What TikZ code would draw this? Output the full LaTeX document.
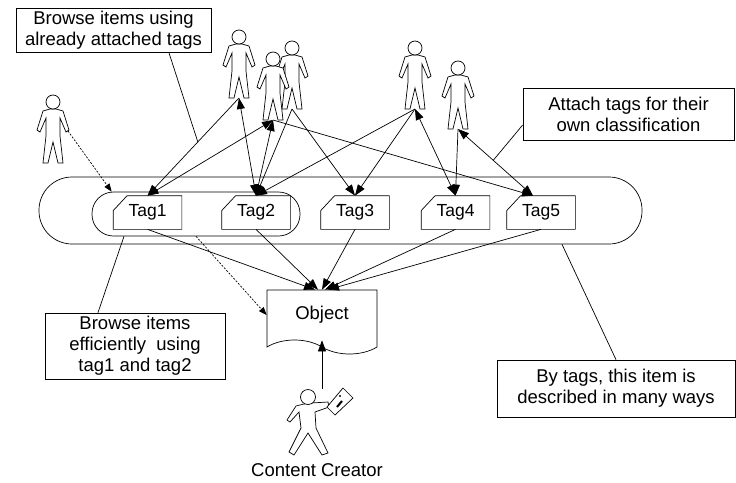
\documentclass[tikz,border=0pt]{standalone}
\usepackage{fontspec}
\setmainfont{Liberation Sans}
\usetikzlibrary{arrows.meta,shapes.symbols,calc}

\tikzset{
  box/.style={draw, align=center, inner sep=0pt},
  grp/.style={draw, inner sep=0pt},
  tag/.style={minimum width=68pt, minimum height=33pt, inner sep=0pt, font=\fontsize{17.5}{21}\selectfont},
  doc/.style={tape, tape bend top=none, tape bend bottom=out and in, tape bend height=14pt,
    draw, fill=white, minimum width=110pt, minimum height=64pt, inner sep=0pt},
  dotarrow/.style={dash pattern=on 2pt off 1.5pt, -{Triangle[length=8pt,width=6pt]}},
  person/.pic={
    \draw[fill=white] (-3,7) -- (-10,9) -- (-16,28) -- (-13,30) -- (-7,16) -- (-7,34)
      -- (-10,61) -- (-5,61) -- (0,40) -- (5,61) -- (10,61) -- (7,34) -- (7,16)
      -- (13,30) -- (16,28) -- (10,9) -- (3,7) -- cycle;
    \draw[fill=white] (0,0) circle (7pt);
    \coordinate (-feet) at (0,61);
    \coordinate (-hand) at (15,29);
  }
}

\begin{document}
\begin{tikzpicture}[x=1pt, y=-1pt, line width=0.7pt, >={Triangle[length=11pt,width=8pt]},
    font=\fontsize{18.5}{21}\selectfont]
    \useasboundingbox (0,0) rectangle (736,482);
    % 标签容器
    \node[grp, minimum width=603pt, minimum height=67pt, rounded corners=33pt] (outer) at (340.5,210.5) {};
    \node[grp, minimum width=208pt, minimum height=44pt, rounded corners=21.5pt] (inner) at (196,214) {};
    % 标签
    \foreach \i/\x in {1/147.5, 2/256, 3/355, 4/455.5, 5/541} {
        \node[tag] (t\i) at (\x,212.5) {Tag\i};
        \draw ([yshift=-15pt]t\i.north west) -- ([xshift=14pt]t\i.north west) -- (t\i.north east)
            -- (t\i.south east) -- (t\i.south west) -- cycle;
    }
    % 用户
    \pic (C) at (292,48) {person};
    \pic (B) at (273,59) {person};
    \pic (A) at (239,37) {person};
    \pic (D) at (415,48) {person};
    \pic (E) at (458,68) {person};
    \pic (L) at (53,102) {person};
    % 对象
    \node[doc] (obj) at (322,315) {Object};
    % 用户与标签
    \draw[->] (A-feet) -- (t1.north);
    \draw[<->] (A-feet) -- (t2.north);
    \draw[<->] (B-feet) -- (t1.north);
    \draw[<->] (B-feet) -- (t2.north);
    \draw[->] (B-feet) -- ([xshift=-8pt]t5.north);
    \draw[->] (C-feet) -- (t2.north);
    \draw[->] (C-feet) -- (t3.north);
    \draw[->] (D-feet) -- (t2.north);
    \draw[->] (D-feet) -- (t3.north);
    \draw[<->] (D-feet) -- (t4.north);
    \draw[->] (E-feet) -- (t4.north);
    \draw[<->] (E-feet) -- ([xshift=-8pt]t5.north);
    % 标签指向对象
    \foreach \i/\dx in {1/-7, 2/-4, 3/0, 4/3, 5/6}
        \draw[->] (t\i.south) -- ([xshift=\dx pt]obj.north);
    \draw[dotarrow] (L-hand) -- ([xshift=20pt]inner.north west);
    \draw[dotarrow] (inner.south) -- (obj.west);
    % 内容创建者
    \draw[fill=white] (304,404) -- (296,406) -- (287,420) -- (290,422) -- (299,412) -- (301,428)
        -- (289,452) -- (294,455) -- (308,433) -- (322,455) -- (328,453) -- (316,428)
        -- (315,412) -- (329,407) -- (328,402) -- (311,403) -- cycle;
    \draw[fill=white] (308,397) circle (7.5pt);
    \draw[fill=white] (343,388) -- (353,398) -- (335,415) -- (327,407) -- cycle;
    \draw[line width=2pt] (337,407) -- (342,401);
    \fill (340,396) circle (1.2pt);
    \coordinate (creator) at (322,389);
    \draw[->] (creator) -- (obj.south);
    \node (cc) at (317,470) {Content Creator};
    % 说明框
    \node[box, minimum width=195pt, minimum height=44pt] (box1) at (113.5,30)
        {Browse items using\\already attached tags};
    \node[box, minimum width=180pt, minimum height=66pt] (box2) at (135,346)
        {Browse items\\efficiently\ \ using\\tag1 and tag2};
    \node[box, minimum width=211pt, minimum height=52pt] (box3) at (628.5,114)
        {Attach tags for their\\own classification};
    \node[box, minimum width=238pt, minimum height=57pt] (box4) at (616,388.5)
        {By tags, this item is\\described in many ways};
    \coordinate (p1) at ($(A-feet)!0.45!(t1.north)$);
    \coordinate (p3) at ($(E-feet)!0.47!([xshift=-8pt]t5.north)$);
    \draw (box1.-22) -- (p1);
    \draw (box2.138) -- ([xshift=-72pt]inner.south);
    \draw ([yshift=-11pt]box3.west) -- (p3);
    \draw (box4.north) -- ([xshift=221.5pt]outer.south);
\end{tikzpicture}
\end{document}
